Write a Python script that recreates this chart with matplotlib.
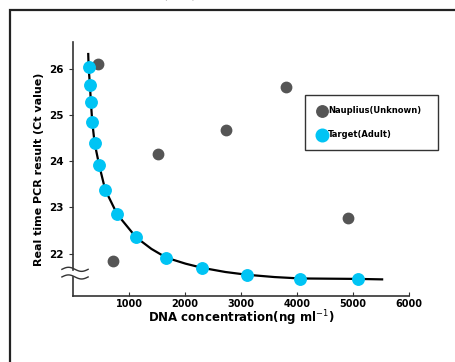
import numpy as np
import matplotlib.pyplot as plt
from matplotlib.patches import Rectangle

# target (adult) standard points
target_x = [279, 302, 320, 344, 386, 468, 575, 789, 1127, 1667, 2307, 3108, 4057, 5083]
target_y = [26.03, 25.65, 25.27, 24.85, 24.39, 23.91, 23.38, 22.85, 22.35, 21.91, 21.69, 21.54, 21.45, 21.45]

# nauplius (unknown) samples
naup_x = [439, 706, 1518, 2735, 3811, 4911]
naup_y = [26.11, 21.83, 24.16, 24.67, 25.61, 22.76]

# fitted curve
curve_x = [272, 279, 302, 320, 344, 386, 468, 575, 789, 1127, 1400, 1667, 2010, 2307, 2720, 3108, 3600, 4057, 5083, 5520]
curve_y = [26.32, 26.03, 25.65, 25.27, 24.85, 24.39, 23.91, 23.38, 22.85, 22.35, 22.10, 21.91, 21.78, 21.69, 21.60, 21.54, 21.49, 21.46, 21.45, 21.44]

xticks = [1000, 2000, 3000, 4000, 5000, 6000]
yticks = [22, 23, 24, 25, 26]

cyan = '#00c4f4'
gray = '#555555'

fig = plt.figure(figsize=(4.56, 3.62), dpi=100)
ax = fig.add_axes([73/456, 1-296/362, (409-73)/456, (296-42)/362])

# outer frame
fig.patches.append(Rectangle((10/456, -0.1), 1.2, 1-10/362+0.1, transform=fig.transFigure,
                             fill=False, edgecolor='#222222', lw=1.6))
# cut off caption line at the very top
fig.text(0.0, 1-3/362, '三判別が可能となった（図1）。', fontsize=11, va='bottom', ha='left',
         family=['Noto Sans CJK JP', 'DejaVu Sans'], color='#333333')

ax.plot(curve_x, curve_y, color='black', lw=1.6, zorder=2)
ax.scatter(naup_x, naup_y, s=56, color=gray, zorder=3, label='Nauplius(Unknown)')
ax.scatter(target_x, target_y, s=68, color=cyan, zorder=4, label='Target(Adult)')

ax.set_xlim(0, 6000)
ax.set_ylim(21.08, 26.58)
ax.set_xticks(xticks)
ax.set_yticks(yticks)
ax.set_xticklabels([str(t) for t in xticks], fontsize=7, fontweight='bold')
ax.set_yticklabels([str(t) for t in yticks], fontsize=7.5, fontweight='bold')
ax.tick_params(axis='x', direction='in', length=3, pad=2, color='#333333')
ax.tick_params(axis='y', direction='out', length=3, pad=4, color='#333333')
for s in ['top', 'right']:
    ax.spines[s].set_visible(False)
for s in ['left', 'bottom']:
    ax.spines[s].set_color('#333333')
    ax.spines[s].set_linewidth(1.2)

ax.set_xlabel('DNA concentration(ng ml$^{-1}$)', fontsize=8.5, fontweight='bold', labelpad=0)
ax.set_ylabel('Real time PCR result (Ct value)', fontsize=8, fontweight='bold', labelpad=3)

# axis break marks
t = np.linspace(0, 1, 50)
bx = -0.033 + 0.078 * t
for y0 in [0.105, 0.075]:
    by = y0 + 0.008 * np.sin(2 * np.pi * t)
    ax.plot(bx, by, transform=ax.transAxes, color='#333333', lw=1.0, clip_on=False, zorder=5)
ax.add_patch(Rectangle((-0.006, 0.082), 0.012, 0.016, transform=ax.transAxes,
                       color='white', clip_on=False, zorder=4))

leg = ax.legend(loc='upper left', bbox_to_anchor=((305-73)/336, (296-95)/254, (438-305)/336, 0),
                mode='expand', frameon=True, fancybox=False, edgecolor='black',
                handletextpad=0.0, borderpad=1.35, borderaxespad=0, labelspacing=1.75,
                handlelength=1.4, markerscale=1.1, prop={'size': 6, 'weight': 'bold'})
leg.get_frame().set_linewidth(1.0)

fig.savefig('out.png', dpi=100)
